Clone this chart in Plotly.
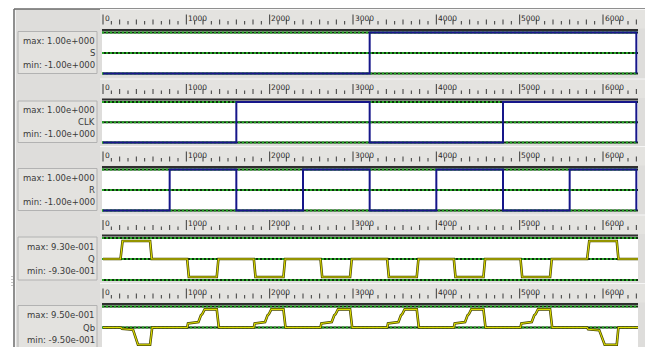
import plotly.graph_objects as go

W, H = 645, 347

# ---------------- data ----------------
S_T = [0, 3200, 6400]
S_V = [-1, 1, -1]
CLK_T = [0, 1600, 3200, 4800, 6400]
CLK_V = [-1, 1, -1, 1, -1]
R_T = [0, 800, 1600, 2400, 3200, 4000, 4800, 5600, 6400]
R_V = [-1, 1, -1, 1, -1, 1, -1, 1, -1]

Q_T = [0, 210, 235, 565, 585,
       1010, 1030, 1365, 1385,
       1810, 1830, 2165, 2185,
       2610, 2630, 2965, 2985,
       3410, 3430, 3765, 3785,
       4210, 4230, 4565, 4585,
       5010, 5030, 5365, 5385,
       5810, 5835, 6165, 6185, 6420]
Q_V = [0, 0, 0.8, 0.8, 0,
       0, -0.8, -0.8, 0,
       0, -0.8, -0.8, 0,
       0, -0.8, -0.8, 0,
       0, -0.8, -0.8, 0,
       0, -0.8, -0.8, 0,
       0, -0.8, -0.8, 0,
       0, 0.8, 0.8, 0, 0]

QB_T = [0, 215, 228, 360, 420, 565, 590,
        1010, 1020, 1145, 1175, 1190, 1220, 1365, 1390,
        1810, 1820, 1945, 1975, 1990, 2020, 2165, 2190,
        2610, 2620, 2745, 2775, 2790, 2820, 2965, 2990,
        3410, 3420, 3545, 3575, 3590, 3620, 3765, 3790,
        4210, 4220, 4345, 4375, 4390, 4420, 4565, 4590,
        5010, 5020, 5145, 5175, 5190, 5220, 5365, 5390,
        5810, 5822, 5955, 6020, 6165, 6185, 6420]
QB_V = [0, 0, -0.06, -0.1, -0.78, -0.78, 0,
        0, 0.18, 0.25, 0.55, 0.6, 0.82, 0.82, 0,
        0, 0.18, 0.25, 0.55, 0.6, 0.82, 0.82, 0,
        0, 0.18, 0.25, 0.55, 0.6, 0.82, 0.82, 0,
        0, 0.18, 0.25, 0.55, 0.6, 0.82, 0.82, 0,
        0, 0.18, 0.25, 0.55, 0.6, 0.82, 0.82, 0,
        0, 0.18, 0.25, 0.55, 0.6, 0.82, 0.82, 0,
        0, -0.08, -0.12, -0.78, -0.78, 0, 0]

SIGNAL_NAMES = ["S", "CLK", "R", "Q", "Qb"]
MAX_LABELS = ["max: 1.00e+000", "max: 1.00e+000", "max: 1.00e+000", "max: 9.30e-001", "max: 9.50e-001"]
MIN_LABELS = ["min: -1.00e+000", "min: -1.00e+000", "min: -1.00e+000", "min: -9.30e-001", "min: -9.50e-001"]
V_MAX = [1.0, 1.0, 1.0, 0.93, 0.95]
V_MIN = [-1.0, -1.0, -1.0, -0.93, -0.95]

TICK_VALUES = [0, 1000, 2000, 3000, 4000, 5000, 6000]
TICK_LABELS = ["0", "1000", "2000", "3000", "4000", "5000", "6000"]
MINOR_STEP = 100
TICK_END = 6400

# ---------------- layout geometry (pixels) ----------------
PANEL_TOP = [32.5, 102, 169.5, 238, 306.5]
PANEL_BOT = [73.5, 142.5, 210.5, 280, 348.5]
PLOT_X0, PLOT_X1 = 102, 638
ZERO_PX = 103
PX_PER_UNIT = 500 / 6000

BG = "#dedddb"
FONT = "DejaVu Sans"


def py(p):
    return 1 - p / H


def px(p):
    return p / W


x_range = [(PLOT_X0 - ZERO_PX) / PX_PER_UNIT, (PLOT_X1 - ZERO_PX) / PX_PER_UNIT]

fig = go.Figure()
layout = dict(
    width=W, height=H, margin=dict(l=0, r=0, t=0, b=0),
    paper_bgcolor="white", plot_bgcolor="rgba(0,0,0,0)",
    showlegend=False, hovermode=False,
    xaxis=dict(domain=[px(PLOT_X0), px(PLOT_X1)], range=x_range, visible=False,
               anchor="y", fixedrange=True),
)

shapes = []
annotations = []

# global background and frame
shapes.append(dict(type="rect", xref="paper", yref="paper", x0=px(15), x1=1, y0=0, y1=py(9),
                   fillcolor=BG, line=dict(width=0), layer="below"))
shapes.append(dict(type="line", xref="paper", yref="paper", x0=px(14), x1=px(14), y0=0, y1=py(9),
                   line=dict(color="#6a6a6a", width=1.5), layer="below"))
shapes.append(dict(type="line", xref="paper", yref="paper", x0=px(15.5), x1=px(15.5), y0=0, y1=py(10),
                   line=dict(color="#f4f4f4", width=1), layer="below"))
shapes.append(dict(type="line", xref="paper", yref="paper", x0=px(14), x1=1, y0=py(9), y1=py(9),
                   line=dict(color="#6a6a6a", width=1.5), layer="below"))
shapes.append(dict(type="line", xref="paper", yref="paper", x0=px(12), x1=px(12), y0=py(276), y1=py(288),
                   line=dict(color="#8a8a8a", width=1, dash="1px,2px"), layer="below"))

signals = [(S_T, S_V, "blue"), (CLK_T, CLK_V, "blue"), (R_T, R_V, "blue"),
           (Q_T, Q_V, "yellow"), (QB_T, QB_V, "yellow")]

for i in range(5):
    pt, pb = PANEL_TOP[i], PANEL_BOT[i]
    vmax, vmin = V_MAX[i], V_MIN[i]
    ya = f"yaxis{i + 1}"
    yr = f"y{i + 1}"
    # plot axis
    s = (vmax - vmin) / (pb - pt)
    top_px = pt - 3
    bot_px = min(pb + 3, H)
    layout[ya] = dict(domain=[py(bot_px), py(top_px)],
                      range=[vmax - (bot_px - pt) * s, vmax + (pt - top_px) * s],
                      visible=False, anchor="x", fixedrange=True)
    # ruler axis
    ri = i + 6
    rbase = pt - 8
    r_top_px, r_bot_px = pt - 22, pt - 4
    layout[f"yaxis{ri}"] = dict(domain=[py(r_bot_px), py(r_top_px)],
                                range=[-(r_bot_px - rbase), rbase - r_top_px],
                                visible=False, anchor="x", fixedrange=True)

    # ruler band
    shapes.append(dict(type="rect", xref="paper", yref="paper", x0=px(100), x1=1,
                       y0=py(pt - 4), y1=py(pt - 23), fillcolor="#e4e3e0",
                       line=dict(width=0), layer="below"))
    shapes.append(dict(type="line", xref="paper", yref="paper", x0=px(100), x1=1,
                       y0=py(pt - 23), y1=py(pt - 23), line=dict(color="#f6f6f6", width=1), layer="below"))
    # plot white area
    shapes.append(dict(type="rect", xref="paper", yref="paper", x0=px(PLOT_X0), x1=px(PLOT_X1),
                       y0=py(min(pb + 1, H)), y1=py(pt - 1), fillcolor="white",
                       line=dict(width=0), layer="below"))
    # dark top border
    shapes.append(dict(type="line", xref="paper", yref="paper", x0=px(PLOT_X0), x1=px(PLOT_X1),
                       y0=py(pt - 2.5), y1=py(pt - 2.5), line=dict(color="#2e2e2e", width=2), layer="below"))
    # green dotted reference lines
    for v in (vmax, 0, vmin):
        shapes.append(dict(type="line", xref="paper", yref=yr, x0=px(PLOT_X0), x1=px(PLOT_X1),
                           y0=v, y1=v, line=dict(color="#0d2e0d", width=2), layer="below"))
        shapes.append(dict(type="line", xref="paper", yref=yr, x0=px(PLOT_X0), x1=px(PLOT_X1),
                           y0=v, y1=v, line=dict(color="#26a626", width=2, dash="2px,2px"), layer="below"))
    # label box
    shapes.append(dict(type="rect", xref="paper", yref="paper", x0=px(18), x1=px(97),
                       y0=py(min(pb, H + 2)), y1=py(pt - 1), fillcolor="#e3e2df",
                       line=dict(color="#b2b2b2", width=1), layer="below"))
    mid = (pt + pb) / 2
    for txt, ypx in ((MAX_LABELS[i], pt + 8.5), (SIGNAL_NAMES[i], mid), (MIN_LABELS[i], pb - 9)):
        annotations.append(dict(text=txt, xref="paper", yref="paper", x=px(95), y=py(ypx),
                                xanchor="right", yanchor="middle", showarrow=False,
                                font=dict(family=FONT, size=8.5, color="#3a3a3a"),
                                borderpad=0, borderwidth=0))
    # tick labels
    for tv, tl in zip(TICK_VALUES, TICK_LABELS):
        annotations.append(dict(text=tl, xref="x", yref="paper", x=tv, y=py(pt - 14.5),
                                xanchor="left", yanchor="middle", xshift=1.5, showarrow=False,
                                font=dict(family=FONT, size=7.5, color="#2a2a2a"),
                                borderpad=0, borderwidth=0))
    # tick marks
    tx, ty = [], []
    t = 0
    while t <= TICK_END:
        if t in TICK_VALUES:
            h = 10
        elif (t // MINOR_STEP) % 2 == 0:
            h = 5
        else:
            h = 3.5
        tx += [t, t, None]
        ty += [0, h, None]
        t += MINOR_STEP
    fig.add_trace(go.Scatter(x=tx, y=ty, mode="lines", xaxis="x", yaxis=f"y{ri}",
                             line=dict(color="#3a3a3a", width=1), hoverinfo="skip"))

    # waveform
    xs, ys, kind = signals[i]
    if kind == "blue":
        fig.add_trace(go.Scatter(x=xs, y=ys, mode="lines", xaxis="x", yaxis=yr,
                                 line=dict(color="#16168a", width=2, shape="hv"), hoverinfo="skip"))
    else:
        fig.add_trace(go.Scatter(x=xs, y=ys, mode="lines", xaxis="x", yaxis=yr,
                                 line=dict(color="#4a4a00", width=2.6), hoverinfo="skip"))
        fig.add_trace(go.Scatter(x=xs, y=ys, mode="lines", xaxis="x", yaxis=yr,
                                 line=dict(color="#dede00", width=1.1), hoverinfo="skip"))

layout["shapes"] = shapes
layout["annotations"] = annotations
fig.update_layout(**layout)
fig.write_html("out.html",
               config={"displayModeBar": False, "staticPlot": True},
               post_script="document.body.style.margin='0';document.body.style.overflow='hidden';")
